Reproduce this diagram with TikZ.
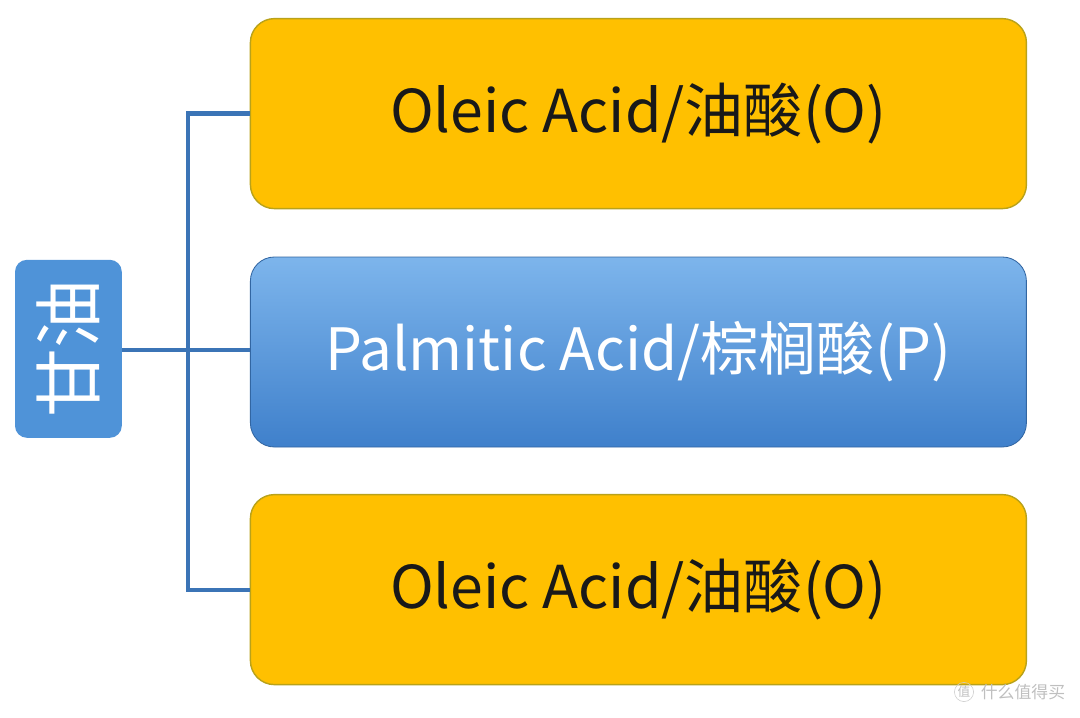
\documentclass[tikz,border=0pt]{standalone}
\usepackage{fontspec}
\setmainfont{Noto Sans CJK SC}
\usepackage{xcolor}
\definecolor{acidyellow}{HTML}{FFC000}
\definecolor{acidedge}{HTML}{B9A21A}
\definecolor{glycblue}{HTML}{4F93D8}
\definecolor{palmtop}{HTML}{7DB5EC}
\definecolor{palmbot}{HTML}{3F80CB}
\definecolor{linkblue}{HTML}{3B74B6}
\usetikzlibrary{positioning}

\tikzset{
  acidbox/.style={draw=acidedge, line width=1pt, fill=acidyellow, rounded corners=0.6cm,
    minimum width=19.4cm, minimum height=4.75cm, text=black!90,
    font=\fontsize{42}{46}\selectfont},
  palmbox/.style={draw=palmbot!80!black, line width=0.6pt, top color=palmtop, bottom color=palmbot,
    rounded corners=0.6cm, minimum width=19.4cm, minimum height=4.75cm, text=white,
    font=\fontsize{41.5}{46}\selectfont},
  glycbox/.style={fill=glycblue, rounded corners=0.3cm, minimum width=2.67cm,
    minimum height=4.45cm, text=white},
  link/.style={draw=linkblue, line width=3pt}
}

\begin{document}
\begin{tikzpicture}
\useasboundingbox (0,0) rectangle (27,-17.925);

% fatty acid chains
\node[acidbox] (oleA) at (15.96,-2.84) {Oleic Acid/油酸(O)};
\node[palmbox] (palm) at (15.96,-8.80) {Palmitic Acid/棕榈酸(P)};
\node[acidbox] (oleB) at (15.96,-14.74) {Oleic Acid/油酸(O)};

% glycerol
\node[glycbox] (glyc) at (1.71,-8.72) {};
\node[text=white, rotate=90, font=\fontsize{49}{50}\selectfont] (glyctxt) at (glyc.center) {甘油};

% connectors
\coordinate (fork) at (4.7,-8.75);
\draw[link] (glyc.east |- fork) -- (fork -| palm.west);
\draw[link] (oleA.west) -| (fork) |- (oleB.west);

% watermark
\node[circle, draw=black!20, text=black!25, inner sep=0.5pt, font=\fontsize{9}{10}\selectfont] (wmark) at (24.1,-17.3) {值};
\node[right=0.05cm of wmark, text=black!25, font=\fontsize{12}{13}\selectfont] (wtext) {什么值得买};
\end{tikzpicture}
\end{document}
